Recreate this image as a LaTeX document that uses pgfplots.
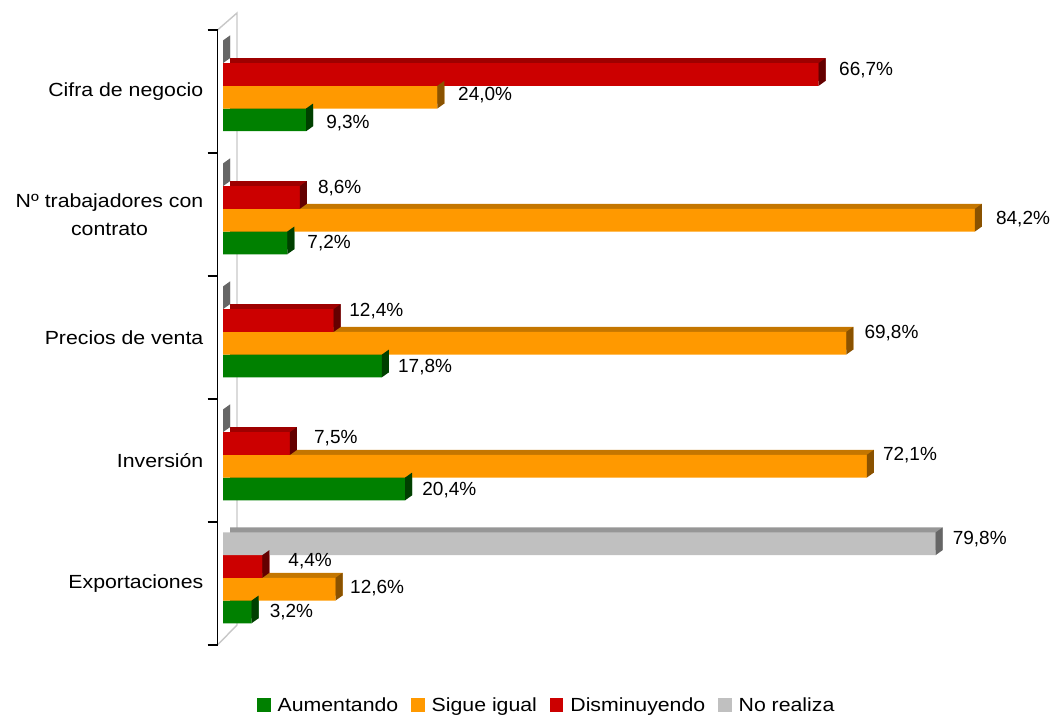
\documentclass[border=0pt]{standalone}
\usepackage{pgfplots}
\usepackage{pgfplotstable}
\pgfplotsset{compat=1.18}
\usepackage{fontspec}
\setmainfont{Liberation Sans}
\newfontfamily\catfont[FakeStretch=1.12]{Liberation Sans}

\definecolor{gF}{HTML}{008000}\definecolor{gT}{HTML}{006000}\definecolor{gS}{HTML}{004000}
\definecolor{oF}{HTML}{FF9900}\definecolor{oT}{HTML}{C47600}\definecolor{oS}{HTML}{8A5200}
\definecolor{rF}{HTML}{CC0000}\definecolor{rT}{HTML}{9E0000}\definecolor{rS}{HTML}{640000}
\definecolor{yF}{HTML}{C0C0C0}\definecolor{yT}{HTML}{969696}\definecolor{yS}{HTML}{666666}

\pgfdeclareplotmark{sideface}{%
  \pgfpathmoveto{\pgfpoint{0pt}{-11.35pt}}%
  \pgfpathlineto{\pgfpoint{0pt}{11.35pt}}%
  \pgfpathlineto{\pgfpoint{7pt}{16.35pt}}%
  \pgfpathlineto{\pgfpoint{7pt}{-6.35pt}}%
  \pgfpathclose
  \pgfusepathqfill}

% y: 0 Exportaciones, 1 Inversion, 2 Precios de venta, 3 N trabajadores, 4 Cifra de negocio
% v: value (%), lx/ly: label nudges (pt)
\pgfplotstableread{
y v lx ly
0 3.2 -1 -2.6
1 20.4 -2 -3.6
2 17.8 -3 -3.6
3 7.2 1 -2.6
4 9.3 1 -6
}\aum
\pgfplotstableread{
y v lx ly
0 12.6 -4.5 -1.3
1 72.1 -3 8.7
2 69.8 -1 7.7
3 84.2 2 -1.3
4 24.0 1.7 -0.3
}\sig
\pgfplotstableread{
y v lx ly
0 4.4 7 3
1 7.5 5 3
2 12.4 -3.5 7
3 8.6 -1 7
4 66.7 1.4 2
}\dis
\pgfplotstableread{
y v lx ly
0 79.8 -2 2.3
1 0 0 0
2 0 0 0
3 0 0 0
4 0 0 0
}\nor

\pgfplotsset{
  backbar/.style={xbar, bar width=22.7pt, bar shift=#1pt, draw=none, xshift=7pt, yshift=5pt, forget plot},
  frontbar/.style={xbar, bar width=22.7pt, bar shift=#1pt, draw=none,
    legend image code/.code={\fill[##1, draw=none] (0pt,-6.7pt) rectangle (13.4pt,6.7pt);},
    point meta=x,
    visualization depends on={\thisrow{lx} \as \labx},
    visualization depends on={\thisrow{ly} \as \laby},
    nodes near coords={\pgfmathfloatifflags{\pgfplotspointmeta}{0}{}{\pgfmathprintnumber{\pgfplotspointmeta}\%}},
    every node near coord/.append style={anchor=west, inner sep=0pt, xshift=19pt, yshift=#1pt+2.5pt,
      xshift=\labx pt, yshift=\laby pt,
      text=black, font=\fontsize{19}{22}\selectfont}},
  sidemark/.style={only marks, mark=sideface, yshift=#1pt, forget plot},
}

\begin{document}
\begin{tikzpicture}
\useasboundingbox (0,0) rectangle (1055pt,716pt);
% 3D back wall
\draw[color=black!22, line width=1.4pt] (217.5pt,686pt) -- (237pt,703pt) -- (237pt,91pt) -- (217.5pt,71pt);
\begin{axis}[
  at={(217.5pt,71pt)}, anchor=south west,
  scale only axis, width=809.2pt, height=615pt,
  xmin=-0.616, xmax=90, ymin=-0.5, ymax=4.5,
  hide x axis,
  axis y line*=left,
  y axis line style={black, line width=1.3pt},
  ytick={-0.5,0.5,1.5,2.5,3.5,4.5}, yticklabels={},
  major tick length=10pt, tick align=outside,
  y tick style={black, line width=1.3pt},
  extra y ticks={0,1,2,3,4},
  extra y tick labels={Exportaciones, Inversión, Precios de venta, {Nº trabajadores con\\contrato}, Cifra de negocio},
  extra y tick style={major tick length=0pt, tick style={draw=none},
     yticklabel style={inner sep=0pt, xshift=-14pt, align=center, font=\catfont\fontsize{19}{28}\selectfont}},
  /pgf/number format/.cd, use comma, fixed, fixed zerofill, precision=1, assume math mode=true, /pgfplots/.cd,
  clip=false,
  legend style={draw=none, fill=none, at={(0.407,-0.0976)}, anchor=center, legend columns=4,
     font=\catfont\fontsize{19}{22}\selectfont,
     /tikz/every odd column/.append style={column sep=5pt},
     /tikz/every even column/.append style={column sep=11pt}},
]
\addplot[backbar=-28.4, fill=gT] table[x=v,y=y]{\aum};
\addplot[frontbar=-28.4, fill=gF] table[x=v,y=y]{\aum};
\addlegendentry{Aumentando}
\addplot[sidemark=-28.4, color=gS] table[x=v,y=y]{\aum};

\addplot[backbar=-5.7, fill=oT] table[x=v,y=y]{\sig};
\addplot[frontbar=-5.7, fill=oF] table[x=v,y=y]{\sig};
\addlegendentry{Sigue igual}
\addplot[sidemark=-5.7, color=oS] table[x=v,y=y]{\sig};

\addplot[backbar=17, fill=rT] table[x=v,y=y]{\dis};
\addplot[frontbar=17, fill=rF] table[x=v,y=y]{\dis};
\addlegendentry{Disminuyendo}
\addplot[sidemark=17, color=rS] table[x=v,y=y]{\dis};

\addplot[backbar=39.7, fill=yT] table[x=v,y=y]{\nor};
\addplot[frontbar=39.7, fill=yF] table[x=v,y=y]{\nor};
\addlegendentry{No realiza}
\addplot[sidemark=39.7, color=yS] table[x=v,y=y]{\nor};
\end{axis}
\end{tikzpicture}
\end{document}
